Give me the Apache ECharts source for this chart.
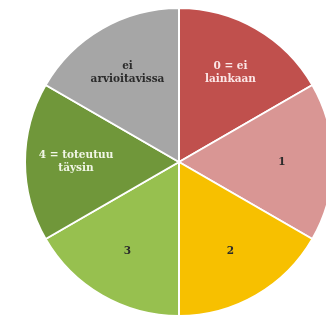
<!DOCTYPE html>
<html>
<head>
<meta charset="utf-8">
<script src="https://cdn.jsdelivr.net/npm/echarts@6/dist/echarts.min.js"></script>
<style>
  html, body { margin: 0; padding: 0; background: #fff; }
  #main { width: 326px; height: 316px; }
</style>
</head>
<body>
<div id="main"></div>
<script>
// scale categories, clockwise from 12 o'clock
const categories = ['0 = ei\nlainkaan', '1', '2', '3', '4 = toteutuu\ntäysin', 'ei\narvioitavissa'];
// all slices are equal in the picture
const shares = [1, 1, 1, 1, 1, 1];
const colors = ['#C0504D', '#D99694', '#F7C000', '#97C04F', '#70973A', '#A6A6A6'];
const labelColors = ['#FBE6E6', '#2b2b2b', '#2b2b2b', '#2b2b2b', '#F1F6E6', '#2b2b2b'];

const center = [179, 162];
const R = 154;

const pieData = categories.map((name, i) => ({
  name: name,
  value: shares[i],
  itemStyle: { color: colors[i] },
  label: { color: labelColors[i] }
}));

const chart = echarts.init(document.getElementById('main'));

chart.setOption({
  animation: false,
  series: [
    {
      // the visible pie
      type: 'pie',
      center: center,
      radius: [0, R],
      startAngle: 90,
      clockwise: true,
      silent: true,
      data: pieData,
      itemStyle: { borderColor: '#ffffff', borderWidth: 2 },
      label: { show: false },
      labelLine: { show: false }
    },
    {
      // transparent ring only to put the labels further out
      type: 'pie',
      center: center,
      radius: [46, R],
      startAngle: 90,
      clockwise: true,
      silent: true,
      data: pieData.map(d => ({
        name: d.name, value: d.value,
        itemStyle: { color: 'rgba(0,0,0,0)' },
        label: d.label
      })),
      itemStyle: { borderWidth: 0 },
      label: {
        show: true,
        position: 'inside',
        formatter: '{b}',
        fontFamily: 'DejaVu Serif',
        fontWeight: 'bold',
        fontSize: 10.5,
        lineHeight: 13,
        align: 'center'
      },
      labelLine: { show: false }
    }
  ]
});
</script>
</body>
</html>
